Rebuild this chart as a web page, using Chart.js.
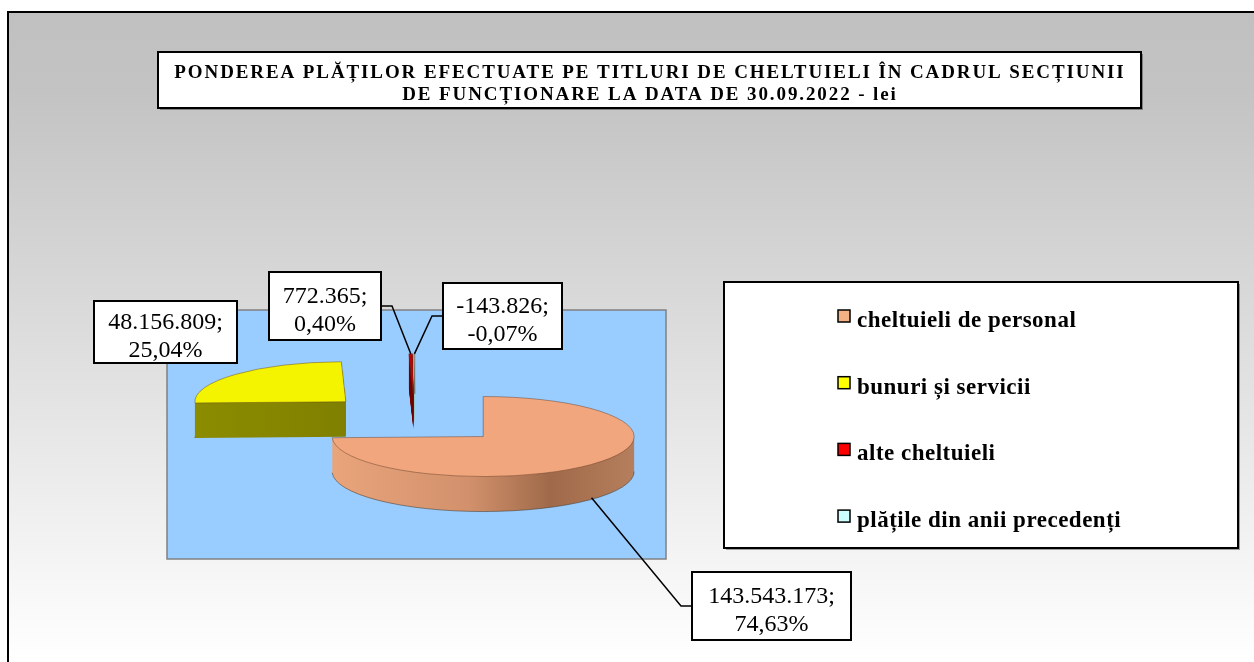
<!DOCTYPE html>
<html>
<head>
<meta charset="utf-8">
<script src="https://cdn.jsdelivr.net/npm/chart.js@4.4.1/dist/chart.umd.min.js"></script>
<style>
  html, body { margin: 0; padding: 0; background: #fff; }
  canvas { display: block; }
</style>
</head>
<body>
<canvas id="chart" width="1254" height="662"></canvas>
<script>
// data
const categories = ['cheltuieli de personal', 'bunuri și servicii', 'alte cheltuieli', 'plățile din anii precedenți'];
const values = [143543173, 48156809, 772365, -143826];
const titleLines = [
  'PONDEREA PLĂȚILOR EFECTUATE PE TITLURI DE CHELTUIELI ÎN CADRUL SECȚIUNII',
  'DE FUNCȚIONARE LA DATA DE 30.09.2022 - lei'
];

// styles
const topColors = ['#f2a67d', '#f4f400', '#c00000', '#ccffff'];
const sideStops = [
  [[0, '#e9a47b'], [0.45, '#d2916c'], [0.72, '#a06a4a'], [1, '#b57e5c']],
  [[0, '#8c8c00'], [1, '#747400']],
  [[0, '#800000'], [1, '#600000']],
  [[0, '#99cccc'], [1, '#88bbbb']]
];
const legendColors = ['#f4b183', '#ffff00', '#ff0000', '#ccffff'];
// data label boxes as placed in the workbook: left, top, width, height
const labelBoxes = [[692, 572, 159, 68], [94, 301, 143, 62], [269, 272, 112, 68], [443, 283, 119, 66]];

const DEPTH = 35;     // pie thickness in px
const SQUASH = 0.265; // vertical tilt of the pie
const EXPLODE = 95;   // explosion distance

const total = values.reduce((a, b) => a + b, 0);
function fmtNum(v) {
  const s = String(Math.abs(Math.round(v))).replace(/\B(?=(\d{3})+(?!\d))/g, '.');
  return (v < 0 ? '-' : '') + s;
}
function fmtPct(v) {
  return (v / total * 100).toFixed(2).replace('.', ',') + '%';
}

function explodeOf(arc) {
  const mid = (arc.startAngle + arc.endAngle) / 2;
  return { mid, ex: Math.cos(mid) * EXPLODE, ey: Math.sin(mid) * EXPLODE };
}

// tilted slice path, shifted down by shiftY screen px
// (front = only the outer arc part facing the viewer)
function slicePath(ctx, arc, shiftY, front) {
  const { ex, ey } = explodeOf(arc);
  ctx.save();
  ctx.translate(0, arc.y + shiftY);
  ctx.scale(1, SQUASH);
  ctx.translate(ex, ey - arc.y);
  ctx.beginPath();
  if (front) {
    const a0 = Math.max(arc.startAngle, 0), a1 = Math.min(arc.endAngle, Math.PI);
    if (a1 > a0) ctx.arc(arc.x, arc.y, arc.outerRadius, a0, a1);
  } else {
    ctx.moveTo(arc.x, arc.y);
    ctx.arc(arc.x, arc.y, arc.outerRadius, arc.startAngle, arc.endAngle);
    ctx.closePath();
  }
  ctx.restore();
}

const pie3d = {
  id: 'pie3d',
  beforeDraw(chart) {
    const ctx = chart.ctx;
    ctx.save();
    ctx.fillStyle = '#ffffff';
    ctx.fillRect(0, 0, chart.width, chart.height);
    const g = ctx.createLinearGradient(0, 12, 0, chart.height);
    g.addColorStop(0, '#c0c0c0');
    g.addColorStop(0.12, '#c3c3c3');
    g.addColorStop(1, '#ffffff');
    ctx.fillStyle = g;
    ctx.fillRect(8, 12, chart.width - 8, chart.height - 12);
    ctx.strokeStyle = '#000';
    ctx.lineWidth = 2;
    ctx.beginPath();
    ctx.moveTo(8, chart.height);
    ctx.lineTo(8, 12);
    ctx.lineTo(chart.width, 12);
    ctx.stroke();

    // plot area
    ctx.fillStyle = '#99ccff';
    ctx.fillRect(167, 310, 499, 249);
    ctx.strokeStyle = '#808080';
    ctx.lineWidth = 1.5;
    ctx.strokeRect(167, 310, 499, 249);
    ctx.restore();
  },
  beforeDatasetsDraw(chart) {
    const ctx = chart.ctx;
    const arcs = chart.getDatasetMeta(0).data;
    ctx.save();
    const fills = arcs.map((arc, i) => {
      const { ex } = explodeOf(arc);
      const x0 = arc.x + ex - arc.outerRadius, x1 = arc.x + ex + arc.outerRadius;
      const g = ctx.createLinearGradient(x0, 0, x1, 0);
      sideStops[i].forEach(([o, c]) => g.addColorStop(o, c));
      return g;
    });
    for (let k = DEPTH; k >= 1; k--) {
      arcs.forEach((arc, i) => {
        slicePath(ctx, arc, k, false);
        ctx.fillStyle = fills[i];
        ctx.fill();
      });
    }
    ctx.lineWidth = 0.8;
    ctx.strokeStyle = 'rgba(60,40,20,0.6)';
    arcs.forEach((arc) => {
      slicePath(ctx, arc, DEPTH, true);
      ctx.stroke();
    });
    ctx.restore();
  },
  beforeDatasetDraw(chart, args) {
    const ctx = chart.ctx;
    args.meta.data.forEach((arc) => {
      const { ex, ey } = explodeOf(arc);
      ctx.save();
      ctx.translate(0, arc.y);
      ctx.scale(1, SQUASH);
      ctx.translate(ex, ey - arc.y);
      arc.draw(ctx);
      ctx.restore();
    });
    return false;
  },
  afterDraw(chart) {
    const ctx = chart.ctx;
    const arcs = chart.getDatasetMeta(0).data;
    ctx.save();

    // data labels with leader lines
    arcs.forEach((arc, i) => {
      const [bx, by, bw, bh] = labelBoxes[i];
      const { mid, ex, ey } = explodeOf(arc);
      const ax = arc.x + ex + Math.cos(mid) * arc.outerRadius;
      let ay = arc.y + SQUASH * (ey + Math.sin(mid) * arc.outerRadius);
      if (Math.sin(mid) > 0) ay += DEPTH * 0.95;
      const my = by + bh / 2;
      const dx = Math.max(bx - ax, 0, ax - (bx + bw));
      const dy = Math.max(by - ay, 0, ay - (by + bh));
      if (Math.hypot(dx, dy) > 20) {
        const edge = ax < bx ? bx : bx + bw;
        const elbow = ax < bx ? bx - 11 : bx + bw + 11;
        ctx.strokeStyle = '#000';
        ctx.lineWidth = 1.5;
        ctx.beginPath();
        ctx.moveTo(ax, ay);
        ctx.lineTo(elbow, my);
        ctx.lineTo(edge, my);
        ctx.stroke();
      }
      ctx.fillStyle = '#fff';
      ctx.fillRect(bx, by, bw, bh);
      ctx.strokeStyle = '#000';
      ctx.lineWidth = 2;
      ctx.strokeRect(bx, by, bw, bh);
      ctx.fillStyle = '#000';
      ctx.font = '24px "Liberation Serif", "Times New Roman", serif';
      ctx.textAlign = 'center';
      ctx.textBaseline = 'alphabetic';
      ctx.fillText(fmtNum(values[i]) + ';', bx + bw / 2, my - 3);
      ctx.fillText(fmtPct(values[i]), bx + bw / 2, my + 25);
    });

    // legend
    ctx.fillStyle = 'rgba(0,0,0,0.35)';
    ctx.fillRect(726, 284, 514, 266);
    ctx.fillStyle = '#fff';
    ctx.fillRect(724, 282, 514, 266);
    ctx.strokeStyle = '#000';
    ctx.lineWidth = 2;
    ctx.strokeRect(724, 282, 514, 266);
    ctx.font = 'bold 23px "Liberation Serif", "Times New Roman", serif';
    ctx.letterSpacing = '0.5px';
    ctx.textAlign = 'left';
    chart.data.labels.forEach((label, i) => {
      const y = 316 + i * 66.7;
      ctx.fillStyle = legendColors[i];
      ctx.fillRect(838, y - 6, 12, 12);
      ctx.strokeStyle = '#000';
      ctx.lineWidth = 1.5;
      ctx.strokeRect(838, y - 6, 12, 12);
      ctx.fillStyle = '#000';
      ctx.fillText(label, 857, y + 11);
    });

    // title
    ctx.fillStyle = 'rgba(0,0,0,0.35)';
    ctx.fillRect(160, 54, 983, 56);
    ctx.fillStyle = '#fff';
    ctx.fillRect(158, 52, 983, 56);
    ctx.strokeStyle = '#000';
    ctx.lineWidth = 2;
    ctx.strokeRect(158, 52, 983, 56);
    ctx.fillStyle = '#000';
    ctx.font = 'bold 19px "Liberation Serif", "Times New Roman", serif';
    ctx.letterSpacing = '1.9px';
    ctx.textAlign = 'center';
    ctx.fillText(titleLines[0], 650, 78);
    ctx.fillText(titleLines[1], 650, 100);
    ctx.restore();
  }
};

new Chart(document.getElementById('chart'), {
  type: 'pie',
  data: {
    labels: categories,
    datasets: [{
      data: values,
      backgroundColor: topColors,
      borderColor: 'rgba(90,55,35,0.7)',
      borderWidth: 1,
      radius: 151
    }]
  },
  options: {
    responsive: false,
    animation: false,
    devicePixelRatio: 1,
    events: [],
    layout: { padding: { left: 115, right: 539, top: 269, bottom: 93 } },
    plugins: {
      legend: { display: false },
      title: { display: false },
      tooltip: { enabled: false }
    }
  },
  plugins: [pie3d]
});
</script>
</body>
</html>
